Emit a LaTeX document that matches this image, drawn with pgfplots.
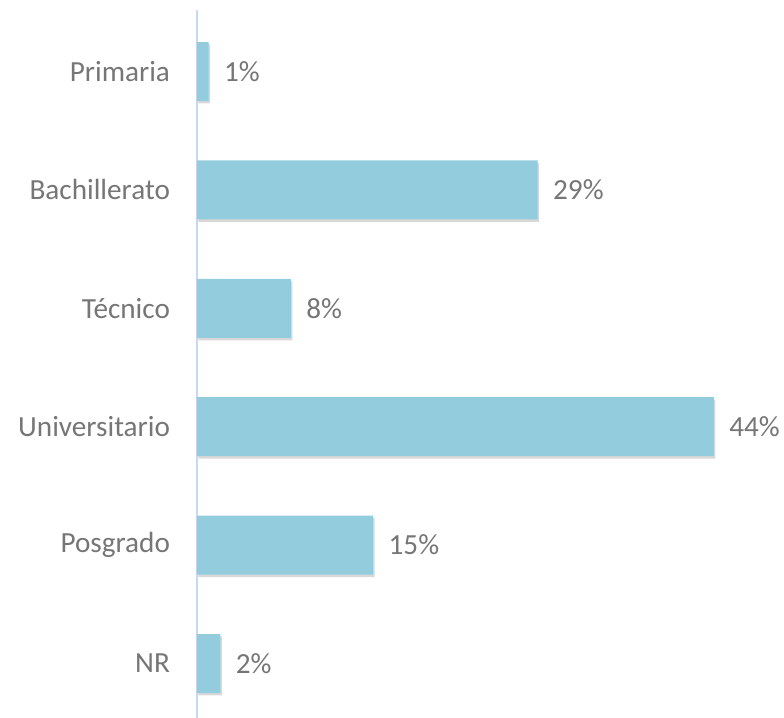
\documentclass[border=0pt]{standalone}
\usepackage{pgfplots}
\pgfplotsset{compat=1.18}
\usepackage{fontspec}
\setmainfont{Carlito}
\usetikzlibrary{shadows}
\definecolor{barblue}{HTML}{93CDDD}
\definecolor{axisblue}{HTML}{C6D9F1}
\definecolor{txtgray}{HTML}{767676}
\begin{document}
\begin{tikzpicture}
\useasboundingbox (-98.5pt,0) rectangle (293.5pt,359pt);
\begin{axis}[
  at={(0,0)}, anchor=south west,
  scale only axis,
  width=293.75pt, height=354pt,
  xbar, bar width=29.5pt,
  xmin=0, xmax=50,
  ymin=-0.46, ymax=5.52,
  clip=false,
  axis x line=none,
  axis y line*=left,
  y axis line style={draw=axisblue, line width=0.6pt, -},
  ytick={0,1,2,3,4,5},
  yticklabels={NR,Posgrado,Universitario,Técnico,Bachillerato,Primaria},
  major tick length=0pt,
  /pgf/number format/assume math mode=true,
  yticklabel style={font=\fontsize{14.6}{17}\selectfont, text=txtgray, xshift=-10pt},
  nodes near coords={\pgfmathprintnumber\pgfplotspointmeta\%},
  nodes near coords style={font=\fontsize{14.6}{17}\selectfont, text=txtgray, anchor=west, inner sep=0pt, xshift=7.5pt},
]
\addplot[fill=barblue, draw=none,
  drop shadow={shadow xshift=0.7pt, shadow yshift=-1.2pt, opacity=0.22, fill=black!70}]
  coordinates {(2,0) (15,1) (44,2) (8,3) (29,4) (1,5)};
\end{axis}
\end{tikzpicture}
\end{document}
